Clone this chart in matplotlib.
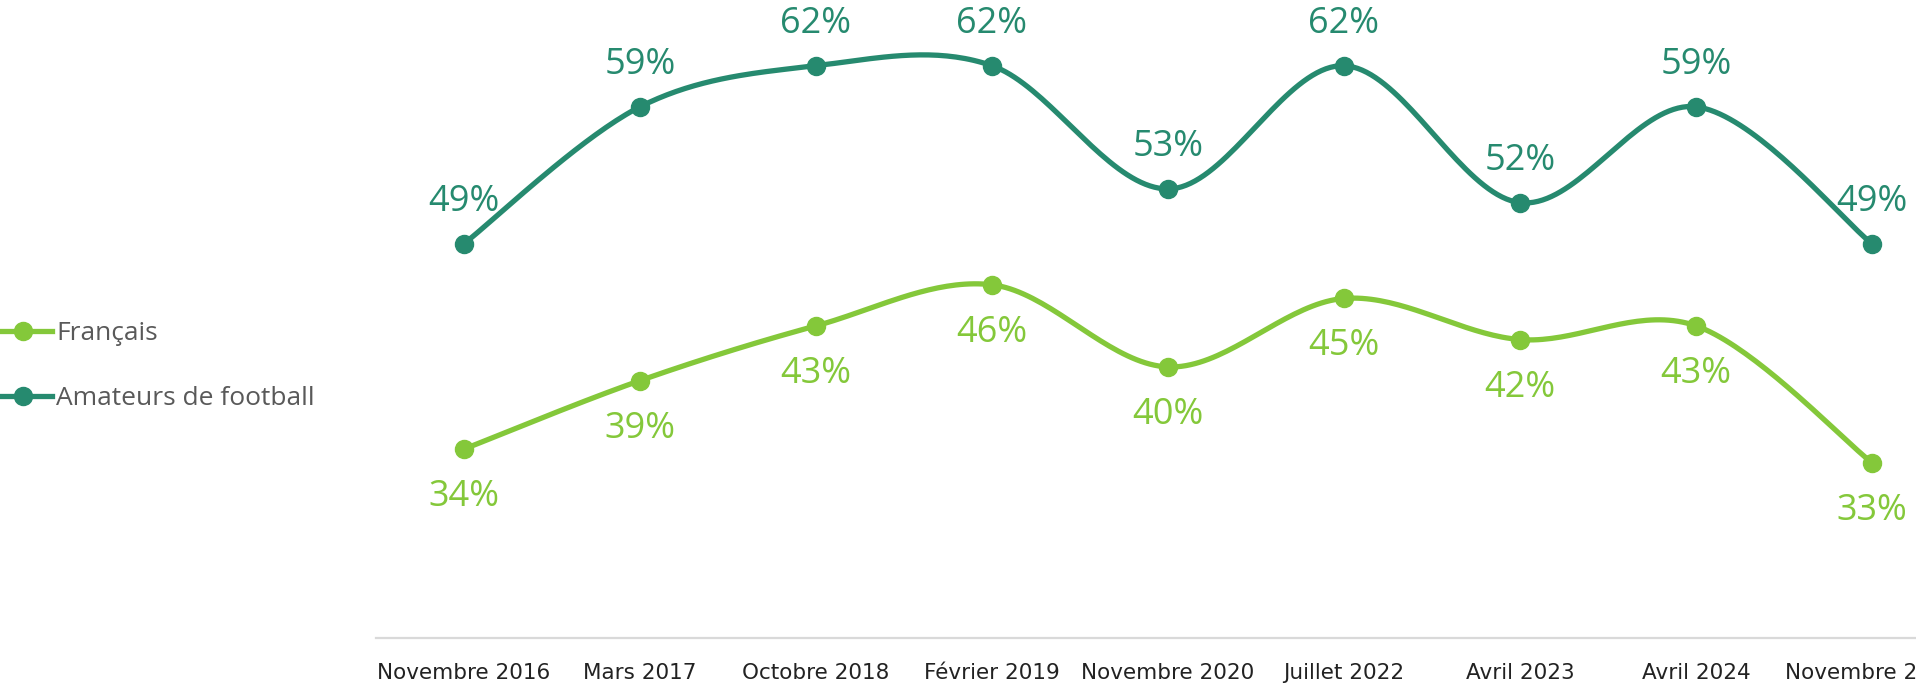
import numpy as np
import matplotlib.pyplot as plt
from matplotlib.lines import Line2D

periods = ["Novembre 2016", "Mars 2017", "Octobre 2018", "Février 2019", "Novembre 2020",
           "Juillet 2022", "Avril 2023", "Avril 2024", "Novembre 2024"]
francais = [34, 39, 43, 46, 40, 45, 42, 43, 33]
amateurs = [49, 59, 62, 62, 53, 62, 52, 59, 49]

c_fr = "#84C83A"
c_am = "#268A6F"


def smooth(y, n=40):
    # catmull-rom like Excel smoothed lines
    y = np.asarray(y, float)
    x = np.arange(len(y), dtype=float)
    p = np.column_stack([x, y])
    pe = np.vstack([p[0], p, p[-1]])
    out = []
    t = np.linspace(0, 1, n)[:, None]
    for i in range(len(p) - 1):
        p0, p1, p2, p3 = pe[i], pe[i + 1], pe[i + 2], pe[i + 3]
        b1 = p1 + (p2 - p0) / 6
        b2 = p2 - (p3 - p1) / 6
        seg = (1 - t) ** 3 * p1 + 3 * (1 - t) ** 2 * t * b1 + 3 * (1 - t) * t ** 2 * b2 + t ** 3 * p2
        out.append(seg)
    out = np.vstack(out)
    return out[:, 0], out[:, 1]


W, H = 1916, 688
fig = plt.figure(figsize=(W / 100, H / 100), dpi=100)
ax = fig.add_axes([376 / W, (H - 638) / H, 1584 / W, 638 / H])

for vals, col, off in [(francais, c_fr, -48), (amateurs, c_am, 42)]:
    xs, ys = smooth(vals)
    ax.plot(xs, ys, color=col, lw=3.8, solid_capstyle="round", zorder=2)
    ax.plot(range(len(vals)), vals, "o", color=col, ms=13, zorder=3)
    for i, v in enumerate(vals):
        ax.annotate(f"{v}%", (i, v), xytext=(0, off), textcoords="offset pixels",
                    ha="center", va="center", color=col, fontsize=26,
                    family=["Open Sans", "DejaVu Sans"])

ax.set_xlim(-0.5, len(periods) - 0.5)
ax.set_ylim(20.2, 66.8)
ax.set_yticks([])
ax.set_xticks(range(len(periods)))
ax.set_xticklabels(periods, fontsize=15.5, color="#222222",
                   family=["Liberation Sans Narrow", "DejaVu Sans Condensed", "DejaVu Sans"])
ax.tick_params(axis="x", length=0, pad=18)
for s in ["top", "right", "left"]:
    ax.spines[s].set_visible(False)
ax.spines["bottom"].set_color("#D9D9D9")
ax.spines["bottom"].set_linewidth(1.6)

handles = [Line2D([], [], color=c_fr, lw=3.8, marker="o", ms=13),
           Line2D([], [], color=c_am, lw=3.8, marker="o", ms=13)]
fig.legend(handles, ["Français", "Amateurs de football"], loc="center left",
           bbox_to_anchor=(-0.003, 1 - 366 / H), frameon=False, handlelength=2.2,
           handletextpad=0.15, labelspacing=1.5, borderpad=0, borderaxespad=0,
           prop={"family": ["Open Sans", "DejaVu Sans"], "size": 19}, labelcolor="#595959")

fig.savefig("out.png", dpi=100)
